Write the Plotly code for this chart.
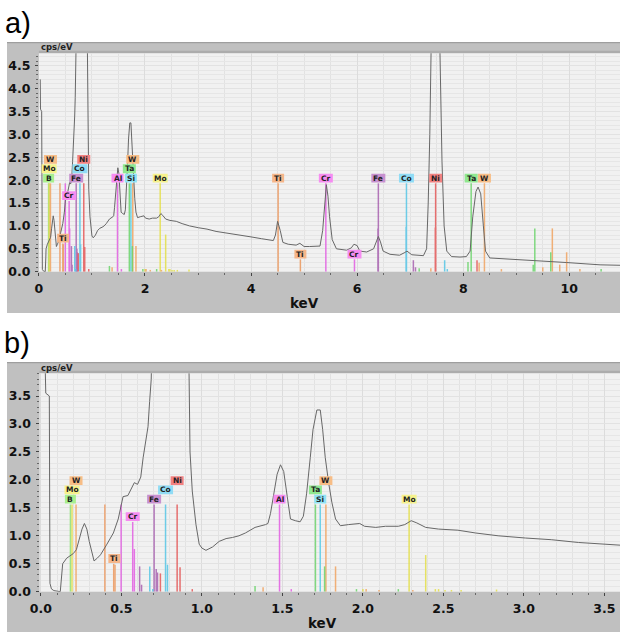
import plotly.graph_objects as go

# ---------------- data ----------------
# EDS spectrum (keV, cps/eV); values above the axis top are off-scale peaks
SPEC_KEV = [0.025, 0.030, 0.052, 0.056, 0.065, 0.080, 0.120, 0.130, 0.135, 0.160,
            0.200, 0.220, 0.240, 0.255, 0.270, 0.285, 0.300, 0.315, 0.330, 0.350,
            0.370, 0.410, 0.450, 0.480, 0.500, 0.510, 0.540, 0.560, 0.580, 0.600,
            0.620, 0.635, 0.650, 0.665, 0.675, 0.685, 0.690, 0.720, 0.800, 0.880,
            0.915, 0.920, 0.926, 0.940, 0.963, 0.983, 1.000, 1.025, 1.066, 1.107,
            1.150, 1.190, 1.230, 1.270, 1.330, 1.395, 1.410, 1.426, 1.447, 1.467,
            1.488, 1.508, 1.530, 1.550, 1.580, 1.610, 1.630, 1.650, 1.673, 1.690,
            1.714, 1.735, 1.750, 1.766, 1.787, 1.807, 1.830, 1.860, 1.910, 1.980,
            2.010, 2.080, 2.140, 2.220, 2.260, 2.300, 2.335, 2.390, 2.470, 2.590,
            2.700, 2.840, 3.010, 3.170, 3.340, 3.460, 3.590, 4.000, 4.200, 4.420,
            4.460, 4.500, 4.550, 4.600, 4.700, 4.850, 4.920, 5.000, 5.100, 5.300,
            5.350, 5.390, 5.420, 5.450, 5.480, 5.530, 5.610, 5.800, 5.890, 5.940,
            6.000, 6.050, 6.180, 6.310, 6.360, 6.400, 6.440, 6.490, 6.620, 6.800,
            6.900, 6.940, 7.030, 7.250, 7.310, 7.340, 7.370, 7.390, 7.450, 7.560,
            7.600, 7.640, 7.690, 7.780, 7.940, 8.060, 8.130, 8.180, 8.240, 8.280,
            8.330, 8.380, 8.420, 8.500, 8.820, 9.320, 9.950, 10.580, 10.960]
SPEC_CPS = [4.20, 3.55, 3.50, 0.15, 0.05, 0.02, 0.00, 0.30, 0.50, 0.60,
            0.68, 0.75, 0.95, 1.12, 1.22, 1.12, 0.90, 0.70, 0.55, 0.60,
            0.66, 0.85, 1.05, 1.30, 1.60, 1.70, 1.72, 1.85, 1.95, 1.92,
            2.05, 2.40, 2.70, 2.95, 3.40, 3.80, 4.50, 9.00, 12.0, 9.00,
            5.00, 3.90, 2.50, 1.80, 1.20, 0.85, 0.78, 0.74, 0.80, 0.90,
            0.95, 0.97, 1.00, 1.05, 1.15, 1.20, 1.22, 1.40, 1.75, 2.10,
            2.27, 2.15, 1.70, 1.30, 1.27, 1.25, 1.35, 1.75, 2.40, 2.90,
            3.25, 3.25, 2.90, 2.40, 1.95, 1.60, 1.30, 1.18, 1.20, 1.22,
            1.17, 1.15, 1.17, 1.17, 1.20, 1.27, 1.23, 1.15, 1.12, 1.10,
            1.05, 1.00, 0.96, 0.93, 0.88, 0.86, 0.83, 0.76, 0.72, 0.68,
            0.80, 1.10, 0.90, 0.64, 0.60, 0.58, 0.62, 0.55, 0.55, 0.56,
            0.90, 1.60, 1.90, 1.65, 1.20, 0.70, 0.50, 0.47, 0.52, 0.60,
            0.57, 0.45, 0.43, 0.50, 0.65, 0.77, 0.65, 0.45, 0.38, 0.36,
            0.42, 0.45, 0.37, 0.35, 0.50, 1.50, 3.00, 4.90, 9.00, 4.90,
            2.40, 1.00, 0.45, 0.33, 0.32, 0.33, 0.45, 1.20, 1.75, 1.85,
            1.70, 1.00, 0.45, 0.30, 0.28, 0.25, 0.20, 0.15, 0.14]

# element marker lines: element, energy (keV), relative height (1 = full marker)
LINE_ELEM = ["B", "Mo", "W", "Ti", "Ti", "Ti", "Cr", "Cr", "Cr", "Fe",
             "Fe", "Co", "Co", "Fe", "Fe", "Fe", "Ni", "Co", "Co", "Ni",
             "Ni", "Ni", "Ta", "W", "Al", "Al", "Ta", "Si", "Ta", "W",
             "W", "Ta", "Mo", "W", "W", "Ta", "Mo", "W", "Mo", "Mo",
             "Mo", "Mo", "Mo", "Mo", "Mo", "Ti", "Ti", "Cr", "Cr", "Fe",
             "Fe", "Fe", "Fe", "Co", "Co", "Ta", "W", "Ni", "Ni", "Co",
             "Co", "Ta", "Ta", "Ni", "W", "W", "W", "Ta", "Ta", "W",
             "Ta", "W", "W", "W", "W", "Ta"]
LINE_KEV = [0.183, 0.193, 0.218, 0.397, 0.452, 0.460, 0.498, 0.570, 0.580, 0.613,
            0.625, 0.676, 0.695, 0.703, 0.716, 0.724, 0.742, 0.774, 0.786, 0.846,
            0.864, 0.940, 1.330, 1.380, 1.482, 1.555, 1.705, 1.735, 1.762, 1.770,
            1.830, 1.960, 2.000, 2.020, 2.100, 2.220, 2.287, 2.310, 2.390, 2.450,
            2.470, 2.510, 2.550, 2.610, 2.830, 4.510, 4.930, 5.410, 5.950, 6.400,
            6.395, 7.060, 7.100, 6.930, 6.925, 7.170, 7.390, 7.480, 7.475, 7.650,
            7.700, 8.090, 8.150, 8.260, 8.300, 8.400, 8.720, 9.320, 9.350, 9.500,
            9.650, 9.680, 9.820, 9.950, 10.200, 10.600]
LINE_REL = [1.00, 1.00, 1.00, 1.00, 0.32, 0.31, 1.00, 0.80, 0.49, 0.29,
            0.08, 0.29, 0.03, 1.00, 0.26, 0.22, 0.21, 1.00, 0.31, 1.00,
            0.28, 0.03, 0.065, 0.05, 1.00, 0.03, 1.00, 1.00, 0.29, 1.00,
            0.29, 0.03, 0.03, 0.03, 0.02, 0.03, 1.00, 0.02, 0.42, 0.03,
            0.03, 0.02, 0.02, 0.02, 0.025, 1.00, 0.14, 1.00, 0.14, 1.00,
            0.49, 0.13, 0.05, 1.00, 0.51, 0.04, 0.04, 1.00, 0.50, 0.13,
            0.03, 0.11, 1.00, 0.13, 0.10, 1.00, 0.03, 0.08, 0.49, 0.05,
            0.22, 0.49, 0.08, 0.22, 0.03, 0.03]

# labels: element, energy (keV), relative height of its line, stack level
LABEL_ELEM = ["B", "Mo", "W", "Ti", "Cr", "Fe", "Co", "Ni", "Al", "Si", "Ta", "W",
              "Mo", "Ti", "Ti", "Cr", "Cr", "Fe", "Co", "Ni", "Ta", "W"]
LABEL_KEV = [0.183, 0.193, 0.218, 0.456, 0.570, 0.703, 0.774, 0.846, 1.482, 1.735,
             1.705, 1.770, 2.287, 4.510, 4.930, 5.410, 5.950, 6.400, 6.930, 7.480,
             8.150, 8.400]
LABEL_REL = [1, 1, 1, 0.32, 0.80, 1, 1, 1, 1, 1, 1, 1, 1, 1, 0.14, 1, 0.14, 1, 1, 1, 1, 1]
LABEL_STACK = [0, 1, 2, 0, 0, 0, 1, 2, 0, 0, 1, 2, 0, 0, 0, 0, 0, 0, 0, 0, 0, 0]

PANEL_NAMES = ["a)", "b)"]
PANEL_XRANGE = [[0.0, 10.956], [-0.009, 3.597]]
PANEL_YRANGE = [[0.0, 4.77], [0.0, 3.906]]
PANEL_XTICKS = [[0, 2, 4, 6, 8, 10], [0.0, 0.5, 1.0, 1.5, 2.0, 2.5, 3.0, 3.5]]
PANEL_XTICKTEXT = [["0", "2", "4", "6", "8", "10"],
                   ["0.0", "0.5", "1.0", "1.5", "2.0", "2.5", "3.0", "3.5"]]
PANEL_YTICKS = [[0.0, 0.5, 1.0, 1.5, 2.0, 2.5, 3.0, 3.5, 4.0, 4.5],
                [0.0, 0.5, 1.0, 1.5, 2.0, 2.5, 3.0, 3.5]]
PANEL_YTICKTEXT = [["0.0", "0.5", "1.0", "1.5", "2.0", "2.5", "3.0", "3.5", "4.0", "4.5"],
                   ["0.0", "0.5", "1.0", "1.5", "2.0", "2.5", "3.0", "3.5"]]
PANEL_XMINOR = [0.5, 0.1]
PANEL_FULL_LINE = [1.93, 1.56]   # cps/eV reached by full-height marker lines
X_TITLE = "keV"
Y_TITLE = "cps/eV"

# ---------------- styling ----------------
LINE_COLOR = {"B": "#8fe07a", "Mo": "#e3df4a", "W": "#f0a462", "Ti": "#ec985e",
              "Cr": "#e25ee2", "Al": "#e25ee2", "Fe": "#a862b0", "Co": "#58c6e6",
              "Si": "#58cde6", "Ni": "#e45858", "Ta": "#6cd46c"}
BOX_COLOR = {"B": "#a8f08e", "Mo": "#f6f28c", "W": "#f7bd86", "Ti": "#f5b68a",
             "Cr": "#f68cf1", "Al": "#f68cf1", "Fe": "#c790cf", "Co": "#90dcf5",
             "Si": "#90e3f5", "Ni": "#f28181", "Ta": "#90e890"}
BOX_W = {"B": 11, "Mo": 15, "W": 13, "Ti": 12, "Cr": 14, "Fe": 14, "Co": 15,
         "Ni": 13, "Al": 12, "Si": 12, "Ta": 13}

FIG_W, FIG_H = 620, 632
# pixel geometry of each panel: plot area (x0, x1, ytop, ybottom) and frame
PLOT_PX = [(38.9, 620, 53.3, 271.7), (39.5, 620, 373.3, 591.7)]
FRAME_PX = [(7, 620, 42, 313), (7, 620, 362, 632)]
NAME_POS = [(3, 23), (2, 342.5)]
XTITLE_POS = [(304, 302.5), (322, 623)]
YTITLE_POS = [(38.5, 47.5), (39, 367.5)]


def px(x):
    return x / FIG_W


def py(y):
    return 1 - y / FIG_H


TICKFONT = dict(family="DejaVu Sans", size=12.5, color="#111111", weight="bold")

fig = go.Figure()
shapes = []
annotations = []
layout = {}

for p in range(2):
    xa = "x" if p == 0 else "x2"
    ya = "y" if p == 0 else "y2"
    xkey = "xaxis" if p == 0 else "xaxis2"
    ykey = "yaxis" if p == 0 else "yaxis2"
    x0, x1, yt, yb = PLOT_PX[p]
    fx0, fx1, fyt, fyb = FRAME_PX[p]
    full = PANEL_FULL_LINE[p]

    layout[xkey] = dict(
        domain=[px(x0), px(x1)], range=PANEL_XRANGE[p], anchor=ya, automargin=False,
        tickmode="array", tickvals=PANEL_XTICKS[p],
        ticktext=["<b>%s</b>" % t for t in PANEL_XTICKTEXT[p]],
        ticks="outside", ticklen=3, tickcolor="#444444", tickfont=TICKFONT,
        ticklabelstandoff=2,
        showgrid=True, gridcolor="#dcdcdc", gridwidth=1,
        minor=dict(tick0=0, dtick=PANEL_XMINOR[p], ticks="outside", ticklen=2,
                   tickcolor="#666666", showgrid=True, gridcolor="#e2e2e2"),
        zeroline=False, showline=False, fixedrange=True)
    layout[ykey] = dict(
        domain=[py(yb), py(yt)], range=PANEL_YRANGE[p], anchor=xa, automargin=False,
        tickmode="array", tickvals=PANEL_YTICKS[p],
        ticktext=["<b>%s</b>" % t for t in PANEL_YTICKTEXT[p]],
        ticks="outside", ticklen=3, tickcolor="#444444", tickfont=TICKFONT,
        ticklabelstandoff=2,
        showgrid=True, gridcolor="#e2e2e2", gridwidth=1,
        minor=dict(tick0=0, dtick=0.1, ticks="outside", ticklen=2,
                   tickcolor="#666666", showgrid=True, gridcolor="#e6e6e6"),
        zeroline=False, showline=False, fixedrange=True)

    # frame and plot background
    shapes.append(dict(type="rect", xref="paper", yref="paper", layer="below",
                       x0=px(fx0), x1=px(fx1), y0=py(fyb), y1=py(fyt),
                       fillcolor="#c0c0c0", line=dict(width=0)))
    shapes.append(dict(type="rect", xref="paper", yref="paper", layer="below",
                       x0=px(fx0), x1=px(fx1), y0=py(fyt + 1.2), y1=py(fyt),
                       fillcolor="#9e9e9e", line=dict(width=0)))
    shapes.append(dict(type="rect", xref="paper", yref="paper", layer="below",
                       x0=px(x0), x1=px(fx1), y0=py(yt), y1=py(yt - 2.5),
                       fillcolor="#acacac", line=dict(width=0)))
    shapes.append(dict(type="rect", xref=xa + " domain", yref=ya + " domain",
                       layer="below", x0=0, x1=1, y0=0, y1=1,
                       fillcolor="#f1f1f1", line=dict(width=0)))

    # element marker lines, one trace per element
    for el in LINE_COLOR:
        xs, ys = [], []
        for e, k, r in zip(LINE_ELEM, LINE_KEV, LINE_REL):
            if e == el:
                xs += [k, k, None]
                ys += [0, r * full, None]
        if xs:
            fig.add_trace(go.Scatter(x=xs, y=ys, mode="lines", xaxis=xa, yaxis=ya,
                                     line=dict(color=LINE_COLOR[el], width=1.5),
                                     opacity=0.85, hoverinfo="skip", showlegend=False))

    # spectrum
    fig.add_trace(go.Scatter(x=SPEC_KEV, y=SPEC_CPS, mode="lines", xaxis=xa, yaxis=ya,
                             line=dict(color="#676767", width=1),
                             hoverinfo="skip", showlegend=False))

    # element labels
    for e, k, r, s in zip(LABEL_ELEM, LABEL_KEV, LABEL_REL, LABEL_STACK):
        if not (PANEL_XRANGE[p][0] <= k <= PANEL_XRANGE[p][1]):
            continue
        off = 5.3 + 9.3 * s
        w = BOX_W[e]
        shapes.append(dict(type="rect", xref=xa, yref=ya, layer="above",
                           xsizemode="pixel", ysizemode="pixel",
                           xanchor=k, yanchor=r * full,
                           x0=-w / 2, x1=w / 2, y0=off - 4.4, y1=off + 4.4,
                           fillcolor=BOX_COLOR[e], line=dict(width=0)))
        annotations.append(dict(x=k, y=r * full, xref=xa, yref=ya, yshift=off,
                                text="<b>%s</b>" % e, showarrow=False, xanchor="center",
                                yanchor="middle",
                                font=dict(family="DejaVu Sans", size=7.5,
                                          color="#222222")))

    # panel texts
    annotations.append(dict(x=px(NAME_POS[p][0]), y=py(NAME_POS[p][1]), xref="paper",
                            yref="paper", text=PANEL_NAMES[p], showarrow=False,
                            xanchor="left", yanchor="middle",
                            font=dict(family="Liberation Sans", size=29, color="#000000")))
    annotations.append(dict(x=px(XTITLE_POS[p][0]), y=py(XTITLE_POS[p][1]), xref="paper",
                            yref="paper", text="<b>%s</b>" % X_TITLE, showarrow=False,
                            xanchor="center", yanchor="middle",
                            font=dict(family="DejaVu Sans", size=13.5, color="#111111")))
    annotations.append(dict(x=px(YTITLE_POS[p][0]), y=py(YTITLE_POS[p][1]), xref="paper",
                            yref="paper", text="<b>%s</b>" % Y_TITLE, showarrow=False,
                            xanchor="left", yanchor="middle",
                            font=dict(family="DejaVu Sans", size=8.5, color="#222222")))

fig.update_layout(
    width=FIG_W, height=FIG_H, margin=dict(l=0, r=0, t=0, b=0, pad=0),
    paper_bgcolor="#ffffff", plot_bgcolor="#f1f1f1", showlegend=False,
    shapes=shapes, annotations=annotations, **layout)

fig.write_html("out.html", config={"displayModeBar": False, "staticPlot": True},
               post_script="document.body.style.margin='0px';")
